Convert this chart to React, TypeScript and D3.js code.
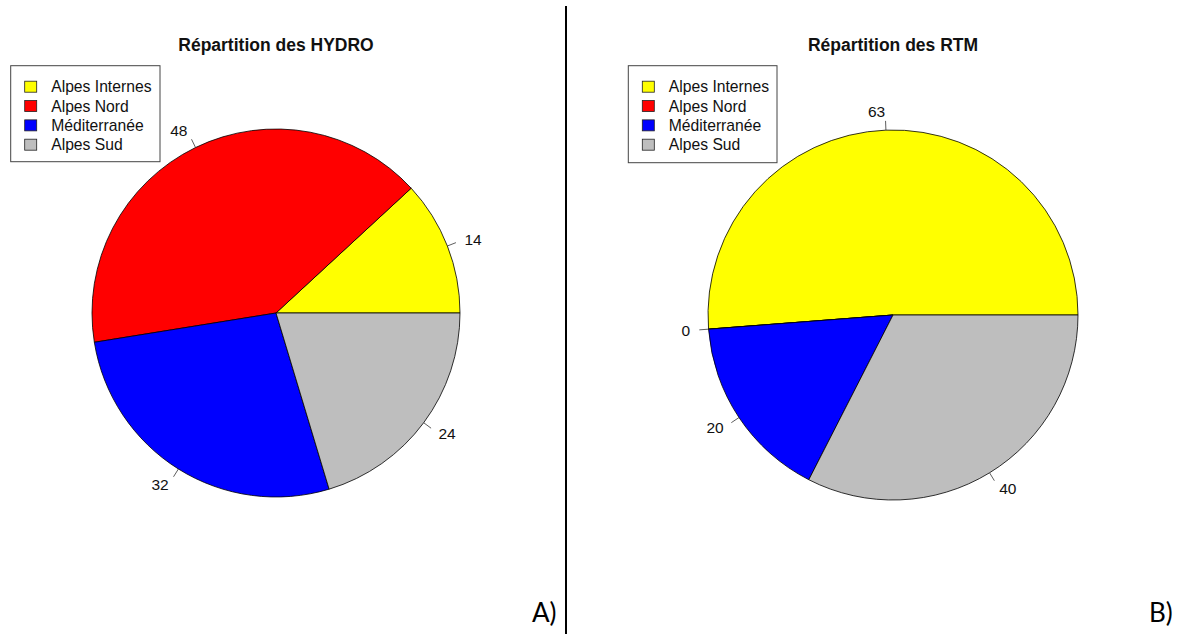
import React from "react";
import * as d3 from "d3";

const regions = ["Alpes Internes", "Alpes Nord", "Méditerranée", "Alpes Sud"];
const regionColors = ["#FFFF00", "#FF0000", "#0000FF", "#BEBEBE"];
const hydroValues = [14, 48, 32, 24];
const rtmValues = [63, 0, 20, 40];
const titles = ["Répartition des HYDRO", "Répartition des RTM"];
const panelLetters = ["A)", "B)"];

const W = 1184;
const H = 634;

type PanelProps = {
  values: number[];
  title: string;
  cx: number;
  cy: number;
  r: number;
  legendX: number;
  legendW: number;
  legendY: number;
  legendH: number;
};

function Pie({ values, title, cx, cy, r, legendX, legendW, legendY, legendH }: PanelProps) {
  const pie = d3
    .pie<number>()
    .sort(null)
    .value((d) => d)
    .startAngle(Math.PI / 2)
    .endAngle(Math.PI / 2 - 2 * Math.PI);
  const arcs = pie(values);
  const arc = d3.arc<d3.PieArcDatum<number>>().innerRadius(0).outerRadius(r);
  const rowScale = d3.scaleLinear().domain([0, 1]).range([legendY + 21, legendY + 21 + 19.33]);

  return (
    <g>
      <text
        x={cx}
        y={51}
        textAnchor="middle"
        fontFamily="'Liberation Sans', Arial, sans-serif"
        fontWeight="bold"
        fontSize={17.5}
        fill="#111"
      >
        {title}
      </text>
      <g transform={`translate(${cx},${cy})`}>
        {arcs.map((a, i) => (
          <path key={i} d={arc(a) || ""} fill={regionColors[i]} stroke="#000" strokeWidth={0.8} />
        ))}
        {arcs.map((a, i) => {
          const m = (a.startAngle + a.endAngle) / 2;
          const sx = Math.sin(m);
          const sy = -Math.cos(m);
          return (
            <g key={"l" + i}>
              <line x1={r * sx} y1={r * sy} x2={1.05 * r * sx} y2={1.05 * r * sy} stroke="#333" strokeWidth={0.8} />
              <text
                x={1.1 * r * sx}
                y={1.1 * r * sy}
                dy="0.35em"
                textAnchor={sx < 0 ? "end" : "start"}
                fontFamily="'Liberation Sans', Arial, sans-serif"
                fontSize={15.5}
                fill="#111"
              >
                {values[i]}
              </text>
            </g>
          );
        })}
      </g>
      <rect x={legendX} y={legendY} width={legendW} height={legendH} fill="#fff" stroke="#444" strokeWidth={1} />
      {regions.map((name, i) => {
        const y = rowScale(i);
        return (
          <g key={"lg" + i}>
            <rect x={legendX + 14} y={y - 5.5} width={12} height={11} fill={regionColors[i]} stroke="#222" strokeWidth={0.8} />
            <text
              x={legendX + 40.5}
              y={y}
              dy="0.35em"
              fontFamily="'Liberation Sans', Arial, sans-serif"
              fontSize={15.7}
              fill="#111"
            >
              {name}
            </text>
          </g>
        );
      })}
    </g>
  );
}

export default function App() {
  return (
    <svg
      width={W}
      height={H}
      style={{ position: "absolute", left: 0, top: 0, background: "#fff" }}
      viewBox={`0 0 ${W} ${H}`}
    >
      <rect x={0} y={0} width={W} height={H} fill="#fff" />
      <Pie
        values={hydroValues}
        title={titles[0]}
        cx={276}
        cy={313}
        r={184}
        legendX={10.7}
        legendW={149.3}
        legendY={65.7}
        legendH={96}
      />
      <Pie
        values={rtmValues}
        title={titles[1]}
        cx={893}
        cy={315}
        r={185}
        legendX={628.3}
        legendW={148.7}
        legendY={65.7}
        legendH={97}
      />
      <line x1={566} y1={6} x2={566} y2={H} stroke="#000" strokeWidth={2} />
      <text x={532} y={622} fontFamily="Lato, 'Open Sans', sans-serif" fontSize={26} fill="#000">
        {panelLetters[0]}
      </text>
      <text x={1149} y={622} fontFamily="Lato, 'Open Sans', sans-serif" fontSize={26} fill="#000">
        {panelLetters[1]}
      </text>
    </svg>
  );
}
